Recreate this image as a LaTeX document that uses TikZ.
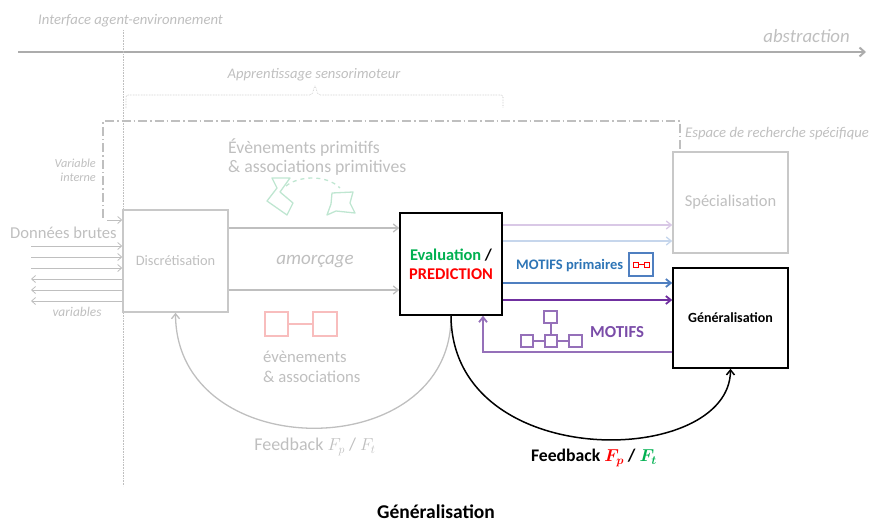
\documentclass[tikz,border=0pt]{standalone}
\usepackage{fontspec}
\setmainfont{Carlito}
\usetikzlibrary{arrows.meta}
\definecolor{lg}{HTML}{BFBFBF}
\definecolor{lgl}{HTML}{C8C8C8}
\definecolor{mgreen}{HTML}{00B050}
\definecolor{mred}{HTML}{FF0000}
\definecolor{mblue}{HTML}{2E75B6}
\definecolor{mpurple}{HTML}{7030A0}
\definecolor{lgreen}{HTML}{BFE6D1}
\definecolor{lred}{HTML}{F8BDBD}
\definecolor{lpurple}{HTML}{D9C8E6}
\definecolor{lblue}{HTML}{C6D6EC}
\definecolor{iblue}{HTML}{4F7FC0}
\definecolor{tpurple}{HTML}{7A4CA8}
\tikzset{
  fs/.style={font=\fontsize{#1}{1.2\dimexpr#1pt\relax}\selectfont},
  graybox/.style={draw=lgl, line width=1.5pt, minimum width=105pt, minimum height=101pt, inner sep=0pt, text=lg},
  blackbox/.style={draw=black, line width=1.5pt, minimum width=102pt, minimum height=102pt, inner sep=0pt},
  garrow/.style={draw=lg, line width=1.3pt, -{Straight Barb[length=5pt,width=8pt]}},
  thinarrow/.style={draw=lg, line width=0.8pt, -{Straight Barb[length=4pt,width=7pt]}},
  gtext/.style={text=lg, inner sep=0pt},
  itext/.style={text=lg, inner sep=0pt},
}
\begin{document}
\begin{tikzpicture}[x=1pt,y=-1pt]
\useasboundingbox (0,0) rectangle (872,525);

% top labels and abstraction axis
\node[itext, fs=14.7, anchor=west] (iface) at (38,21) {\itshape Interface agent-environnement};
\coordinate (ax0) at (18,52);
\coordinate (ax1) at (866,52);
\draw[draw=lg!90!black, line width=2pt, -{Straight Barb[length=5pt,width=9pt]}] (ax0) -- (ax1);
\node[itext, fs=18.8, anchor=east] (abst) at (850,36) {\itshape abstraction};
\coordinate (v0) at (123,30);
\coordinate (v1) at (123,486);
\draw[draw=lg, line width=0.6pt, densely dotted] (v0) -- (v1);

% sensorimotor brace
\node[itext, fs=14.6] (appr) at (314,75) {\itshape Apprentissage sensorimoteur};
\draw[draw=lg, line width=0.6pt, densely dotted, rounded corners=2pt]
  (126,108) -- (126,95) -- (312,95) -- (315,85) -- (318,95) -- (503,95) -- (503,108);

% boxes
\node[graybox, fs=14.4, minimum width=105pt, minimum height=102pt] (disc) at (175.5,261) {Discrétisation};
\node[graybox, fs=16.5, minimum width=115pt, minimum height=101pt] (spec) at (730.5,202.5) {Spécialisation};
\node[blackbox, align=center, font=\fontsize{16.4}{19}\selectfont] (eval) at (451,264)
  {\bfseries\textcolor{mgreen}{Evaluation} / \\ \bfseries\textcolor{mred}{PREDICTION}};
\node[blackbox, fs=14, minimum width=115pt, minimum height=100pt] (gen) at (730.5,318) {\bfseries Généralisation};

% dash-dot search space
\coordinate (dd0) at (103,218);
\coordinate (dd1) at (103,121);
\coordinate (dd2) at (680,121);
\draw[draw=lg, line width=1.1pt, dash pattern=on 9pt off 3pt on 1.5pt off 3pt]
  (dd0) -- (dd1) -- (dd2) -- (dd2 |- spec.north);
\node[itext, fs=14.7, anchor=west] (esp) at (685,134) {\itshape Espace de recherche spécifique};
\node[itext, align=right, anchor=east, font=\fontsize{12.3}{14}\selectfont] (varint) at (96,170) {\itshape Variable\\\itshape interne};
\coordinate (vi) at (107,220);
\draw[thinarrow] (vi) -- (disc.west |- vi);

% raw data arrows
\node[gtext, fs=16.6, anchor=west] (don) at (10,233) {Données brutes};
\foreach \y/\n in {246/a,257/b,268/c} {
  \coordinate (in\n) at (31,\y);
  \draw[thinarrow] (in\n) -- (disc.west |- in\n);
}
\foreach \y/\n in {279/a,290/b,301/c} {
  \coordinate (out\n) at (31,\y);
  \draw[thinarrow] (disc.west |- out\n) -- (out\n);
}
\node[itext, fs=13.4] (vars) at (77,312) {\itshape variables};

% primitive events
\node[gtext, align=left, anchor=west, font=\fontsize{17.7}{18.5}\selectfont] (evprim) at (228,157) {Évènements primitifs\\\& associations primitives};
\draw[draw=lgreen, line width=1.3pt, line join=round]
  (272,178) -- (290,178) -- (280,192) -- (293,203) -- (287,215) -- (267,201) -- (277,188) -- cycle;
\draw[draw=lgreen, line width=1.3pt, line join=round]
  (332,193) -- (353,192) -- (350,203) -- (355,213) -- (336,211) -- (327,215) -- (331,204) -- cycle;
\draw[draw=lgreen, line width=1.3pt, dash pattern=on 4pt off 4pt]
  (286,186) .. controls (298,176) and (326,174) .. (340,188);

% amorcage arrows
\coordinate (am1) at (0,228);
\coordinate (am2) at (0,290);
\draw[garrow] (disc.east |- am1) -- (eval.west |- am1);
\draw[garrow] (disc.east |- am2) -- (eval.west |- am2);
\node[itext, fs=19] (amorc) at (315,262) {\itshape amorçage};

% events & associations
\draw[draw=lred, line width=1.3pt] (265,312) rectangle (288,336);
\draw[draw=lred, line width=1.3pt] (313,312) rectangle (337,336);
\draw[draw=lred, line width=1.3pt] (288,324) -- (313,324);
\node[gtext, align=left, anchor=west, font=\fontsize{16.7}{20}\selectfont] (evas) at (263,367) {évènements\\\& associations};

% gray feedback
\draw[draw=lg, line width=1.3pt, -{Straight Barb[length=5pt,width=8pt]}]
  (eval.south) .. controls (452,466) and (176,466) .. (disc.south);
\node[gtext, fs=18] (fbg) at (315,447) {Feedback $F_p$ / $F_t$};

% outputs to specialisation
\coordinate (sp1) at (0,225);
\coordinate (sp2) at (0,241);
\draw[draw=lpurple, line width=1.3pt, -{Straight Barb[length=5pt,width=8pt]}] (eval.east |- sp1) -- (spec.west |- sp1);
\draw[draw=lblue, line width=1.3pt, -{Straight Barb[length=5pt,width=8pt]}] (eval.east |- sp2) -- (spec.west |- sp2);

% outputs to generalisation
\coordinate (g1) at (0,283);
\coordinate (g2) at (0,300);
\draw[draw=iblue, line width=1.8pt, -{Straight Barb[length=5pt,width=8pt]}] (eval.east |- g1) -- (gen.west |- g1);
\draw[draw=mpurple, line width=1.8pt, -{Straight Barb[length=5pt,width=8pt]}] (eval.east |- g2) -- (gen.west |- g2);
\node[fs=14.5, text=mblue, anchor=west, inner sep=0pt] (motp) at (516,266) {\bfseries MOTIFS primaires};
\draw[draw=iblue, line width=1.3pt] (629,253) rectangle (653,276);
\draw[draw=mred, line width=0.9pt] (633,262) rectangle (638,267);
\draw[draw=mred, line width=0.9pt] (644,262) rectangle (649,267);
\draw[draw=mred, line width=0.9pt] (638,264.5) -- (644,264.5);

% MOTIFS feedback
\coordinate (mf) at (0,352);
\draw[draw=tpurple!80, line width=1.8pt, -{Straight Barb[length=5pt,width=8pt]}]
  (gen.west |- mf) -| ([xshift=32pt]eval.south);
\begin{scope}[draw=tpurple!80, line width=1.3pt]
  \draw (544,311) rectangle (557,323);
  \draw (521,335) rectangle (533,347);
  \draw (545,335) rectangle (557,347);
  \draw (569,335) rectangle (582,347);
  \draw (551,323) -- (551,335);
  \draw (533,341) -- (545,341);
  \draw (557,341) -- (569,341);
\end{scope}
\node[fs=16.8, text=tpurple, anchor=west, inner sep=0pt] (mot) at (590,332) {\bfseries MOTIFS};

% black feedback
\draw[draw=black, line width=1.5pt, -{Straight Barb[length=5pt,width=8pt]}]
  (eval.south) .. controls (452,474) and (730,468) .. (gen.south);
\node[fs=17.7, inner sep=0pt] (fbb) at (594,458)
  {\bfseries Feedback {\boldmath$\textcolor{mred}{F_p}$} / {\boldmath$\textcolor{mgreen}{F_t}$}};

% caption
\node[fs=19.5, inner sep=0pt, anchor=south] (cap) at (436,519) {\bfseries Généralisation};
\end{tikzpicture}
\end{document}
